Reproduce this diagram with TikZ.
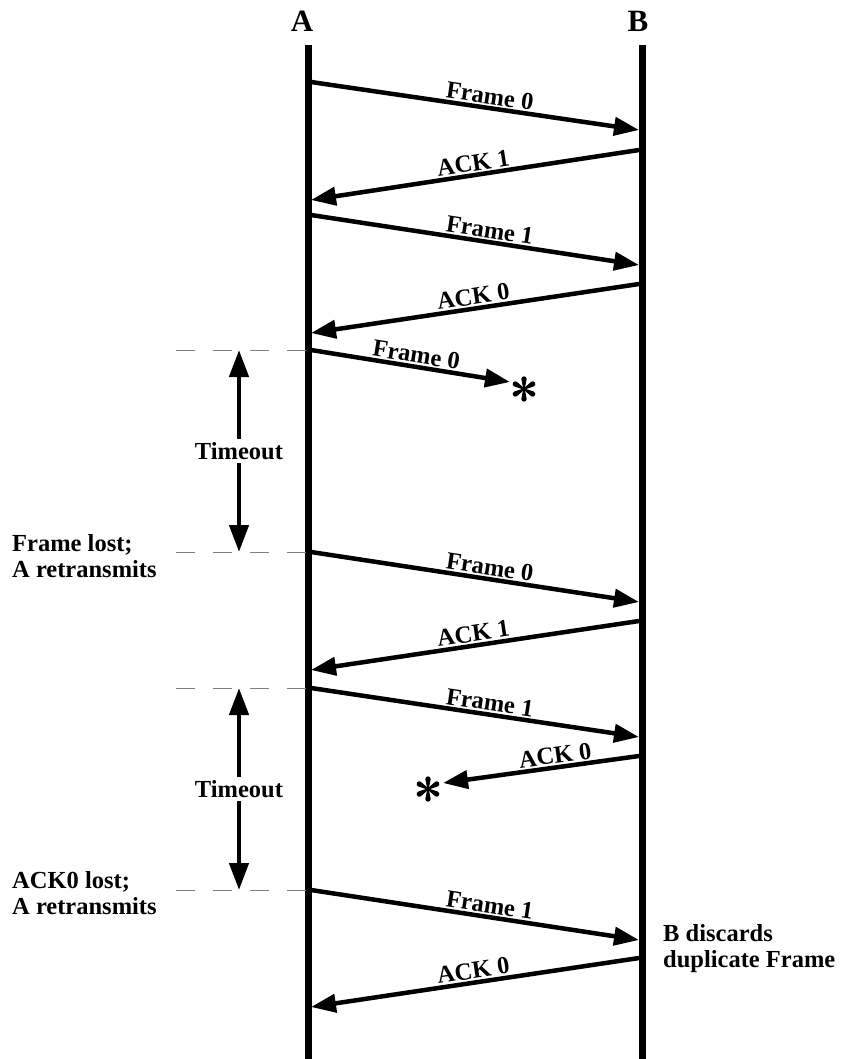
\documentclass[tikz,border=0pt]{standalone}
\usepackage{fontspec}
\setmainfont{Liberation Serif}
\usetikzlibrary{arrows.meta}
\begin{document}
\begin{tikzpicture}[x=1pt,y=-1pt,
  life/.style={line width=7pt},
  msg/.style={line width=4.5pt,-{Triangle[length=25pt,width=18pt]}},
  tmo/.style={line width=4.5pt,{Triangle[length=27pt,width=19pt]}-{Triangle[length=27pt,width=19pt]}},
  guide/.style={gray,line width=1pt,dash pattern=on 19pt off 18pt},
  lbl/.style={font=\fontsize{24.5}{26}\selectfont\bfseries,inner sep=1.5pt},
  note/.style={font=\fontsize{24.5}{26.5}\selectfont\bfseries,align=left,inner sep=0pt},
  head/.style={font=\fontsize{31}{32}\selectfont\bfseries,inner sep=0pt},
  tlab/.style={font=\fontsize{24.5}{26}\selectfont\bfseries,fill=white,inner sep=3pt}]
\useasboundingbox (0,0) rectangle (841,1059);
\fill[white] (0,0) rectangle (841,1059);
\newcommand{\lostmark}[2]{%
  \begin{scope}[shift={(#1,#2)},y=1pt]
    \foreach \ang in {30,90,150,210,270,330}{
      \fill[rotate=\ang] (0,-0.7) -- (10,-2.7) arc[start angle=-90,end angle=90,radius=2.7] -- (0,0.7) -- cycle;}
  \end{scope}}
% lifelines
\node[head] (A) at (302,21) {A};
\node[head] (B) at (638,21) {B};
\coordinate (At) at (308,45); \coordinate (Ab) at (308,1059);
\coordinate (Bt) at (642,45); \coordinate (Bb) at (642,1059);
\draw[life] (At) -- (Ab);
\draw[life] (Bt) -- (Bb);
% message end points
\coordinate (a1) at (311,82);  \coordinate (b1) at (639,130);
\coordinate (b2) at (639,150); \coordinate (a2) at (311,200);
\coordinate (a3) at (311,215); \coordinate (b3) at (639,265);
\coordinate (b4) at (639,284); \coordinate (a4) at (311,333);
\coordinate (a5) at (311,350); \coordinate (x5) at (510,382);
\coordinate (a6) at (311,552); \coordinate (b6) at (639,602);
\coordinate (b7) at (639,621); \coordinate (a7) at (311,670);
\coordinate (a8) at (311,688); \coordinate (b8) at (639,737);
\coordinate (b9) at (639,756); \coordinate (x9) at (443,783);
\coordinate (a10) at (311,890); \coordinate (b10) at (639,940);
\coordinate (b11) at (639,958); \coordinate (a11) at (311,1007);
\draw[msg] (a1) -- node[lbl,above,sloped,pos=0.54] {Frame 0} (b1);
\draw[msg] (b2) -- node[lbl,above,sloped] {ACK 1} (a2);
\draw[msg] (a3) -- node[lbl,above,sloped,pos=0.54] {Frame 1} (b3);
\draw[msg] (b4) -- node[lbl,above,sloped] {ACK 0} (a4);
\draw[msg] (a5) -- node[lbl,above,sloped,pos=0.52] {Frame 0} (x5);
\lostmark{524}{389}
\draw[msg] (a6) -- node[lbl,above,sloped,pos=0.54] {Frame 0} (b6);
\draw[msg] (b7) -- node[lbl,above,sloped] {ACK 1} (a7);
\draw[msg] (a8) -- node[lbl,above,sloped,pos=0.54] {Frame 1} (b8);
\draw[msg] (b9) -- node[lbl,above,sloped,pos=0.42] {ACK 0} (x9);
\lostmark{428}{789}
\draw[msg] (a10) -- node[lbl,above,sloped,pos=0.54] {Frame 1} (b10);
\draw[msg] (b11) -- node[lbl,above,sloped] {ACK 0} (a11);
% guides
\coordinate (g1) at (176,350); \coordinate (g2) at (176,552);
\coordinate (g3) at (176,688); \coordinate (g4) at (176,890);
\draw[guide] (g1) -- (a5);
\draw[guide] (g2) -- (a6);
\draw[guide] (g3) -- (a8);
\draw[guide] (g4) -- (a10);
% timeouts
\coordinate (t1a) at (239,350); \coordinate (t1b) at (239,552);
\coordinate (t2a) at (239,688); \coordinate (t2b) at (239,890);
\draw[tmo] (t1a) -- node[tlab] {Timeout} (t1b);
\draw[tmo] (t2a) -- node[tlab] {Timeout} (t2b);
% notes
\node[note,anchor=north west] (n1) at (12,534) {Frame lost;\\A retransmits};
\node[note,anchor=north west] (n2) at (12,871) {ACK0 lost;\\A retransmits};
\node[note,anchor=north west] (n3) at (663,924) {B discards\\duplicate Frame};
\end{tikzpicture}
\end{document}
